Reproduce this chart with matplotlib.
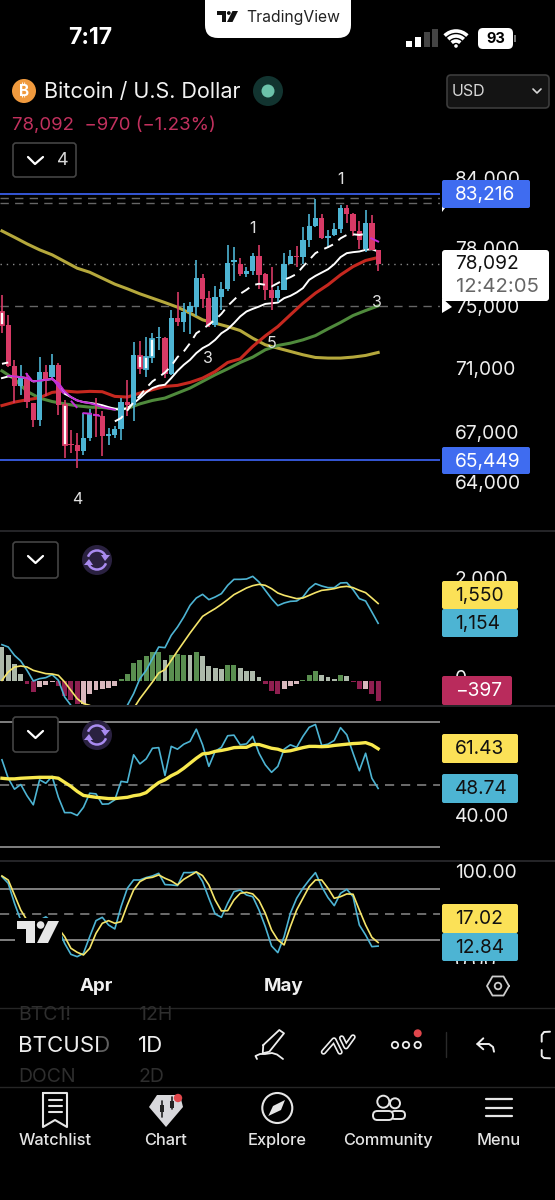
import numpy as np
import matplotlib
matplotlib.use("Agg")
import matplotlib.pyplot as plt
from matplotlib.patches import FancyBboxPatch, Circle, Polygon, Arc, Rectangle

plt.rcParams['font.family'] = ['Inter', 'DejaVu Sans']

W, H = 555, 1200
BG = '#000000'

# ---------- data: x is days from 1 April ----------
days = list(range(-15, 46))
opens = [74830,73940,71250,69940,70465,68885,67865,70885,70530,71315,68780,66410,66330,65950,66745,68230,68110,66900,66925,67295,68990,68780,71900,71050,71815,73070,73050,70738,74430,74160,74770,75170,77120,75740,73940,75855,76360,78270,78120,77420,77630,78700,77400,76315,75740,76315,78120,78700,78600,79830,80877,81465,79950,80194,80607,82200,81734,80510,79170,81048,79120]
highs = [75970,74610,71597,71315,70780,68885,71814,71315,72030,71420,69100,67250,67050,68270,68520,69205,68375,67355,67500,69205,70360,72770,72835,73159,73420,73825,73159,74946,76133,75440,75510,78410,77420,76200,76590,76890,79480,79310,78530,77880,78930,79480,77510,77880,76590,78885,79120,79410,80754,81734,82847,81710,80558,81097,82395,82395,81783,81244,82028,81660,79120]
lows = [73380,71205,68885,69415,68580,67415,67500,69310,70465,68170,65556,65850,64995,65750,66550,66843,65695,66350,66745,66645,68070,67760,70738,70530,71465,72290,70465,70675,73870,73490,73340,74500,75060,73825,73780,74946,76200,76960,77280,77190,77350,76360,75625,74946,75510,76315,78110,77880,78120,79313,80754,79880,79240,80145,80313,81048,80117,79170,79000,79075,77650]
closes = [73940,71250,69940,70465,68930,67865,70885,70400,71315,68780,66350,66330,65950,66745,68230,68110,66885,66985,67295,68990,68780,71944,71100,71815,72985,73159,70738,74430,74115,74770,75215,77120,75670,73940,75855,76360,78170,78365,77420,77630,78650,77350,76315,75740,76315,78120,78650,78600,79830,80877,81465,79950,80145,80630,82200,81734,80485,79830,81048,79120,78092]
hollow_days = [-15, -5, 7, 8, 9]

olive_days = [-15,-13,-11,-9,-7,-5,-3,-1,1,3,5,7,9,11,13,15,17,19,21,23,25,27,29,31,33,35,37,39,41,43,45]
olive_vals = [80484,80024,79550,79123,78767,78293,77820,77536,77120,76707,76385,76040,75740,75440,75125,74722,74274,74050,73825,73557,73050,72617,72400,72183,71966,71790,71750,71750,71815,71922,72117]
red_days = olive_days
red_vals = [68738,68953,69100,69226,69562,69646,69583,69625,69604,69310,69268,69520,69730,69940,70003,70192,70465,70885,71466,71705,72508,73204,73825,74610,75394,76087,76662,77352,77934,78364,78578]
green_days = olive_days
green_vals = [70927,70402,69625,69205,68990,68844,68722,68640,68620,68518,68559,68844,69058,69205,69520,69835,70255,70675,71055,71466,71814,72291,72573,72725,72942,73224,73670,74095,74565,74900,75215]
white_days = list(range(-15, 46))
white_vals = [70465,70570,70570,70520,70465,70255,70297,70360,70402,70150,69478,69268,69058,68953,68906,68844,68760,68640,68539,68477,68580,68885,69205,69562,69835,69982,70045,70465,70927,71315,71640,72075,72400,72617,72942,73378,73647,74050,74500,74834,75013,75170,75349,75394,75440,75740,75900,76133,76432,77007,77283,77513,77744,78104,78602,78885,78956,79003,79123,79170,79003]
dash_days = [-15,-14,None,3,4,5,6,7,8,9,10,11,12,13,14,15,16,17,18,19,20,21,22,23,24,25,26,27,28,29,30,31,32,33,34,35,36,37,38,39,40,41,42,43]
dash_vals = [71380,71466,None,67765,67967,68436,68950,69352,69835,70255,70528,70822,71250,71814,72183,72725,73378,73647,73960,74274,74677,75210,75625,76040,76315,76640,76731,76662,76547,76777,77007,77190,77420,77934,78403,78885,79123,79313,79550,79950,80194,80240,80194,80270]
mag_days = [-14,-13,-12,-11,-10,-9,-8,-7,-6,-5,-4,-3,-2,-1,0,1,2,3]
mag_vals = [70612,70570,70528,70465,70255,70297,70360,70402,70150,69625,69268,69058,68953,68885,68780,68640,68559,68477]
magdash_days = [-11.1,-10.4,None,-7,-5.2,None,-3.9,-3.1,None,-2,-0.8,None,-0.3,0.5,None,43.9,45]
magdash_vals = [70738,70402,None,70465,69520,None,68990,68640,None,68270,68230,None,68170,68110,None,79950,79715]

level_top = 83216
level_bot = 65449
last_price = 78092
dash_levels = [82897, 82518, 75200]

macd_hist = [680,513,347,147,-53,-220,-120,-87,-20,-107,-307,-387,-467,-467,-267,-173,-160,-147,-100,47,133,360,427,493,573,587,413,513,533,527,513,580,493,293,260,247,327,327,260,200,193,80,-67,-207,-253,-153,-100,-53,13,127,200,127,73,40,113,93,-27,-160,-153,-260,-397]
hist_kind = ['s','s','s','s','r','r','p','p','p','r','r','r','r','p','p','p','p','p','p',
             'g','g','g','g','g','g','g','s','g','g','g','s','g','s','s','s','s','g','g','s','s','s','s',
             'r','r','r','p','p','p','g','g','g','s','s','s','g','s','r','r','p','r','r']
macd_line = [727,680,513,400,213,0,47,67,127,13,-320,-487,-650,-800,-850,-830,-800,-760,-680,-600,-487,-253,47,213,447,680,667,913,1080,1280,1513,1660,1733,1627,1680,1747,1913,2033,2033,2040,2093,1980,1813,1647,1507,1560,1593,1600,1680,1847,1947,1900,1867,1867,1960,1967,1827,1647,1600,1380,1154]
macd_signal = [13,180,280,300,280,213,180,147,140,113,-20,-187,-353,-453,-487,-600,-680,-720,-720,-680,-640,-550,-353,-187,-20,160,227,413,600,780,960,1127,1293,1373,1447,1533,1627,1727,1793,1860,1907,1933,1913,1847,1760,1713,1680,1647,1660,1713,1767,1813,1827,1847,1880,1893,1867,1813,1767,1660,1550]

rsi_line = [57.9,52,48.5,50,46.4,43.5,51.5,50.4,52.6,45.9,41,41,40.1,42.7,47.2,47,43.7,43.8,45.1,51,50.7,59.5,56.6,58.2,61.6,61.8,52.9,62.2,61.3,62.9,63.8,67.7,62.7,55.8,60.6,61.9,65.6,65.8,62.7,63,65.4,60,56.3,53.9,55.8,61.3,62.7,61.9,65.4,68.3,69.2,62.5,62.9,64.1,68.2,65.9,60,54.4,60,52,48.74]
rsi_ma = [52,51.8,51.8,52,52.1,52.2,52.3,52.3,52.3,52,50.7,49.4,47.8,46.5,46.2,45.9,45.7,45.5,45.5,45.7,45.9,46.4,46.7,47.4,49.1,50.6,51.5,52.8,53.8,55.2,56.8,58.4,59.8,60,60.6,60.9,61.3,61.8,61.9,61.9,62.8,62.8,62.2,61.6,61.3,60.6,60.8,61.3,61.8,62.2,62.2,62.1,62.2,62.5,62.7,62.9,63.1,63.2,63.4,62.7,61.43]
stoch_k = [94,86.2,62.9,43,35.6,29.7,43,47,41,33.6,16,3.2,0.5,4.4,23.9,42.6,46.5,37.5,32.9,59,80.4,90.1,90.1,92.9,94.8,97.9,84.7,84.3,83.5,98.7,98.7,99.5,88.2,68.7,50.4,46.5,62.9,76.5,78.4,72.6,70.6,55,35.6,13,5.2,23.9,51.2,68.7,80.4,90.1,98.7,82.3,69.5,60.1,74.5,79.2,70.6,37.5,25.8,12.2,12.84]
stoch_d = [94.8,90,72.6,55,43,35.6,31.7,33.6,35.6,33.6,23.9,10.3,5.6,2.5,10.3,27.8,39.5,42.6,39.5,41.4,60.9,78.4,88.2,92.1,93.2,96,92.1,89,84.3,90.9,95.2,99.5,95.2,84.3,66.7,53.9,54.3,66.7,74.5,75.7,73.8,66,51.2,31.7,20,14.2,35.6,55,68.7,82.3,90.1,90.1,80.4,68.7,70.6,73.8,73.4,55,37.5,23.1,17.02]
rsi_levels = [70, 50, 30]
stoch_levels = [80, 50, 20]

# ---------- colours ----------
C_RED = '#d83a66'
C_BLUE = '#4db4d3'
C_TAGY = '#fbe157'
C_LINE_Y = '#f5e56a'
C_CRIM = '#b92b5c'
C_ROYAL = '#3557d6'
C_TAGB = '#3f6cf0'
C_GRID = '#8a8a8a'
HIST = {'g': '#5a8f50', 's': '#adb9aa', 'r': '#8f1f50', 'p': '#d8b8bd'}


def panel(y0, y1):
    ax = fig.add_axes([0, 1 - y1 / H, 440 / W, (y1 - y0) / H])
    ax.set_xlim(-96 / 6.27, (440 - 96) / 6.27)
    ax.axis('off')
    ax.patch.set_alpha(0)
    return ax


def arr(v):
    return np.array([np.nan if a is None else a for a in v], dtype=float)


fig = plt.figure(figsize=(W / 100, H / 100), dpi=100, facecolor=BG)

# ---------- price panel ----------
ax = panel(165, 530)
ax.set_yscale('log')
ax.set_ylim(61430, 85424)
ax.axis('off')
for lv in dash_levels:
    ax.axhline(lv, color='#666666', lw=1, dashes=(6, 4.5), zorder=1)
ax.axhline(last_price, color='#8a8a8a', lw=1, dashes=(1, 3.5), zorder=1)
ax.axhline(level_top, color=C_ROYAL, lw=1.4, zorder=1)
ax.axhline(level_bot, color=C_ROYAL, lw=1.4, zorder=1)
ax.plot(olive_days, olive_vals, color='#b5a83c', lw=2.2, zorder=2)
ax.plot(green_days, green_vals, color='#4f8a3c', lw=2.2, zorder=2)
ax.plot(red_days, red_vals, color='#c5281f', lw=2.2, zorder=2)
ax.plot(white_days, white_vals, color='white', lw=1.4, zorder=3)
for d, o, h, l, c in zip(days, opens, highs, lows, closes):
    col = C_BLUE if c >= o else C_RED
    ax.plot([d, d], [l, h], color=col, lw=1.2, zorder=4, solid_capstyle='butt')
    lo, hi = min(o, c), max(o, c)
    if hi - lo < 60:
        hi = lo + 60
    if d in hollow_days:
        ax.bar(d, hi - lo, bottom=lo, width=0.62, facecolor='white', edgecolor=col, lw=1.3, zorder=5)
    else:
        ax.bar(d, hi - lo, bottom=lo, width=0.84, color=col, lw=0, zorder=5)
ax.plot(arr(dash_days), arr(dash_vals), color='white', lw=1.4, dashes=(5, 3.5), zorder=6)
ax.plot(mag_days, mag_vals, color='#c42fd8', lw=1.4, zorder=6)
ax.plot(arr(magdash_days), arr(magdash_vals), color='#c42fd8', lw=1.4, zorder=6)

# ---------- MACD panel ----------
ax2 = panel(531, 705)
ax2.set_ylim(-480, 3000)
for d, v, k in zip(days, macd_hist, hist_kind):
    ax2.bar(d, v, width=0.78, color=HIST[k], lw=0, zorder=1)
ax2.plot(days, macd_line, color=C_BLUE, lw=1.2, zorder=2)
ax2.plot(days, macd_signal, color=C_LINE_Y, lw=1.2, zorder=3)

# ---------- RSI panel ----------
ax3 = panel(706, 860)
ax3.set_ylim(25.84, 75.12)
ax3.axhline(rsi_levels[0], color=C_GRID, lw=1.3)
ax3.axhline(rsi_levels[1], color=C_GRID, lw=1.1, dashes=(6, 4.5))
ax3.axhline(rsi_levels[2], color=C_GRID, lw=1.3)
ax3.plot(days, rsi_line, color=C_BLUE, lw=1.2, zorder=2)
ax3.plot(days, rsi_ma, color='#f8e94e', lw=2.4, zorder=3)

# ---------- Stochastic panel ----------
ax4 = panel(862, 960)
ax4.set_ylim(-3.4, 111.1)
ax4.axhline(stoch_levels[0], color=C_GRID, lw=1.3)
ax4.axhline(stoch_levels[1], color=C_GRID, lw=1.1, dashes=(6, 4.5))
ax4.axhline(stoch_levels[2], color=C_GRID, lw=1.3)
ax4.plot(days, stoch_k, color=C_BLUE, lw=1.2, zorder=2)
ax4.plot(days, stoch_d, color=C_LINE_Y, lw=1.2, zorder=3)

# ---------- overlay in screen pixels ----------
ov = fig.add_axes([0, 0, 1, 1], zorder=10)
ov.set_xlim(0, W)
ov.set_ylim(H, 0)
ov.axis('off')
ov.patch.set_alpha(0)


def txt(x, y, s, size=14, color='white', ha='left', weight='normal', z=5, **kw):
    return ov.text(x, y + 1.5, s, fontsize=size, color=color, ha=ha, va='center', fontweight=weight, zorder=z, **kw)


def rbox(x0, y0, x1, y1, fc, ec='none', r=3, lw=1, z=3):
    p = FancyBboxPatch((x0 + r, y0 + r), x1 - x0 - 2 * r, y1 - y0 - 2 * r,
                       boxstyle=f'round,pad={r},rounding_size={r}', fc=fc, ec=ec, lw=lw, zorder=z)
    ov.add_patch(p)
    return p


def line(xs, ys, color='white', lw=1.5, z=6):
    ov.plot(xs, ys, color=color, lw=lw, zorder=z, solid_capstyle='round', solid_joinstyle='round')


def tv_logo(x, y, s, color):
    bar = [(0, 0), (9, 0), (9, 11), (4.5, 11), (4.5, 4), (0, 4)]
    slash = [(15.5, 0), (21, 0), (15.5, 11), (10, 11)]
    ov.add_patch(Polygon([(x + a * s, y + b * s) for a, b in bar], fc=color, ec='none', zorder=7))
    ov.add_patch(Polygon([(x + a * s, y + b * s) for a, b in slash], fc=color, ec='none', zorder=7))
    ov.add_patch(Circle((x + 11.8 * s, y + 2 * s), 1.9 * s, fc=color, ec='none', zorder=7))


# separators
for yy in [531, 706, 861]:
    ov.plot([0, W], [yy, yy], color='#2c2c30', lw=1.2, zorder=1)
for yy in [1008, 1087]:
    ov.plot([0, W], [yy, yy], color='#262626', lw=1, zorder=1)

# status bar
rbox(205, -20, 351, 38, 'white', r=13)
tv_logo(217, 11, 1.0, '#111111')
txt(246, 16, 'TradingView', 11.3, '#222222')
txt(68, 36, '7:17', 16.5, 'white', weight='bold')
for x, h, c in zip([406, 415, 424, 432], [6, 10, 15, 18], ['white', 'white', '#444444', '#444444']):
    ov.add_patch(Rectangle((x, 47 - h), 5.5, h, fc=c, ec='none', zorder=5))
for r in [5, 10, 15]:
    ov.add_patch(Arc((456, 47), 2 * r + 2, 2 * r + 2, theta1=225, theta2=315, color='white', lw=2.6, zorder=5))
ov.add_patch(Circle((456, 46), 1.8, fc='white', ec='none', zorder=5))
rbox(478, 28, 513, 49, 'white', r=5)
txt(495.5, 37.5, '93', 10.5, 'black', ha='center', weight='bold')
ov.add_patch(Rectangle((514, 35), 1.5, 7, fc='#777777', ec='none', zorder=5))

# header
ov.add_patch(Circle((24, 91), 12, fc='#f09a3e', ec='none', zorder=4))
txt(24, 90, '₿', 11, 'white', ha='center', weight='bold')
txt(44, 90.5, 'Bitcoin / U.S. Dollar', 15.5, '#f2f2f2')
ov.add_patch(Circle((268, 91), 15, fc='#123430', ec='none', zorder=4))
ov.add_patch(Circle((268, 91), 6.5, fc='#6cc2aa', ec='none', zorder=5))
txt(12, 123.5, '78,092  −970 (−1.23%)', 13.4, '#c2315e')
rbox(447, 75, 549, 108, '#141414', ec='#3c3c3c', r=4, lw=1.2)
txt(452, 90, 'USD', 11.5, '#d8d8d8')
line([533, 537, 541], [89, 93, 89], '#d8d8d8', 1.2)
rbox(13, 143, 76, 177, BG, ec='#444444', r=3, lw=1.2)
line([28, 35, 43], [157, 164, 157], 'white', 1.6)
txt(57, 159, '4', 13, '#d8d8d8')

# wave marks
for x, y, s in [(340, 178, '1'), (252, 227, '1'), (208, 357, '3'), (272, 342, '5'), (377, 301, '3'), (77, 498, '4')]:
    txt(x, y, s, 11.5, '#e0e0e0', ha='center')

# price scale labels
for y, s in [(178, '84,000'), (249, '78,000'), (307, '75,000'), (368, '71,000'), (432, '67,000'), (483, '64,000'),
             (578, '2,000'), (678, '0'), (816, '40.00'), (872, '100.00'), (962, '0.00')]:
    txt(455, y, s, 13.8, '#eeeeee', z=2)
ov.add_patch(Rectangle((441, 964), 110, 14, fc=BG, ec='none', zorder=2.5))


def tag(y0, y1, x1, s, fc, tc='#111111', x0=442):
    rbox(x0, y0, x1, y1, fc, r=2)
    txt(455, (y0 + y1) / 2 - 0.5, s, 13.8, tc)


ov.add_patch(Polygon([(442, 190), (452, 199), (442, 212)], fc='white', ec='none', zorder=2.8))
ov.add_patch(Polygon([(442, 298), (452, 307), (442, 313)], fc='white', ec='none', zorder=2.8))
tag(180, 208, 530, '83,216', C_TAGB, 'white')
tag(447, 474, 530, '65,449', C_TAGB, 'white')
rbox(442, 250, 549, 301, 'white', r=3)
txt(455, 263, '78,092', 13.8, '#111111')
txt(456, 285, '12:42:05', 14.6, '#666666')

tag(581, 609, 518, '1,550', C_TAGY)
tag(609, 637, 518, '1,154', C_BLUE)
tag(676, 705, 512, '−397', C_CRIM, 'white')
tag(734, 763, 518, '61.43', C_TAGY)
tag(774, 803, 518, '48.74', C_BLUE)
tag(904, 933, 518, '17.02', C_TAGY)
tag(933, 961, 518, '12.84', C_BLUE)

# indicator header buttons
for yb in [542, 717]:
    rbox(13, yb, 58, yb + 36 if yb == 542 else yb + 35, BG, ec='#444444', r=3, lw=1.2, z=7)
    line([28, 35.5, 43], [yb + 14, yb + 21, yb + 14], 'white', 1.6, z=8)
    ov.add_patch(Circle((97, yb + 18), 15, fc='#2a2140', ec='none', zorder=7))
    ov.add_patch(Arc((97, yb + 18), 19, 19, theta1=200, theta2=340, color='#a98bf0', lw=1.8, zorder=8))
    ov.add_patch(Arc((97, yb + 18), 19, 19, theta1=20, theta2=160, color='#a98bf0', lw=1.8, zorder=8))
    ov.add_patch(Polygon([(105, yb + 19), (110, yb + 13), (101, yb + 13)], fc='#a98bf0', ec='none', zorder=8))
    ov.add_patch(Polygon([(89, yb + 17), (84, yb + 23), (93, yb + 23)], fc='#a98bf0', ec='none', zorder=8))

# watermark logo
ov.add_patch(Rectangle((15, 918), 47, 27, fc=BG, ec='none', zorder=6))
tv_logo(17, 921, 2.0, '#e6e6e6')

# time axis
txt(96, 985, 'Apr', 13.5, '#f0f0f0', ha='center', weight='bold')
txt(284, 985, 'May', 13.5, '#f0f0f0', ha='center', weight='bold')
ang = np.deg2rad(np.arange(0, 361, 60))
line(498 + 11 * np.cos(ang), 986 + 11 * np.sin(ang), '#cccccc', 1.3)
ov.add_patch(Circle((498, 986), 3.3, fc='none', ec='#cccccc', lw=1.3, zorder=6))

# toolbar
txt(18, 1014, 'BTC1!', 14, '#2e2e2e')
txt(138, 1014, '12H', 14, '#2e2e2e')
txt(18, 1075, 'DOCN', 14, '#2e2e2e')
txt(138, 1075, '2D', 14, '#2e2e2e')
txt(18, 1045, 'BTCUSD', 16, '#eeeeee')
ov.add_patch(Rectangle((98, 1032), 18, 28, fc=BG, alpha=0.6, ec='none', zorder=6))
txt(138, 1045, '1D', 16, '#eeeeee')
line([263.3, 279.3, 284, 269.3, 262.7, 263.3], [1045, 1030, 1033.3, 1051.7, 1053.3, 1045], '#eeeeee', 1.3)
line([257, 255.5, 260, 265, 272, 277, 283], [1059, 1056, 1054, 1054, 1053, 1054.5, 1059], '#eeeeee', 1.3)
line([323.5, 334, 340], [1052, 1040, 1052], '#eeeeee', 4)
line([323.5, 334, 340], [1052, 1040, 1052], '#000000', 1.6, z=7)
line([341.7, 346, 353], [1038, 1046.7, 1037], '#eeeeee', 4)
line([341.7, 346, 353], [1038, 1046.7, 1037], '#000000', 1.6, z=7)
for x in [395, 406, 417.7]:
    ov.add_patch(Circle((x, 1045), 3.2, fc='none', ec='#eeeeee', lw=1.3, zorder=6))
ov.add_patch(Circle((417.7, 1033.3), 4, fc='#e0474c', ec='none', zorder=7))
line([446, 446], [1032, 1057], '#2a2a2a', 1)
line([483.3, 477.3, 483.3], [1038.3, 1044, 1049.3], '#eeeeee', 1.4)
line([477.3, 489, 493, 494], [1044, 1044, 1047, 1051.7], '#eeeeee', 1.4)
line([550, 544, 541.7, 541.7], [1031.7, 1032, 1035, 1041.7], '#eeeeee', 1.4)
line([541.7, 541.7, 544, 550], [1050, 1056, 1058, 1058.3], '#eeeeee', 1.4)

# bottom navigation
for x, s in zip([55, 166, 277, 388, 498.5], ['Watchlist', 'Chart', 'Explore', 'Community', 'Menu']):
    txt(x, 1139, s, 11.8, '#e4e4e4', ha='center', weight='medium')
line([43, 43, 55, 67, 67, 43], [1093, 1127, 1120, 1127, 1093, 1093], '#e6e6e6', 1.5)
for yy in [1100, 1106, 1112]:
    line([49, 62], [yy, yy], '#e6e6e6', 1.5)
ov.add_patch(Polygon([(157, 1095), (180, 1095), (183, 1107), (166, 1127), (149, 1107)], fc='#d8d8dc', ec='none', zorder=5))
for x, y0, y1 in [(162, 1101, 1117), (172, 1097, 1109)]:
    line([x, x], [y0, y1], '#222222', 1.2)
    ov.add_patch(Rectangle((x - 2, y0 + 4), 4, 7, fc='#222222', ec='none', zorder=7))
ov.add_patch(Circle((178, 1098), 4.2, fc='#e0474c', ec='none', zorder=8))
ov.add_patch(Circle((277.3, 1108), 15, fc='none', ec='#e6e6e6', lw=1.5, zorder=5))
ov.add_patch(Polygon([(268.3, 1116), (273, 1106), (285, 1100), (281, 1110)], fc='#e6e6e6', ec='none', zorder=5))
ov.add_patch(Circle((383.3, 1101.7), 6, fc='none', ec='#e6e6e6', lw=1.4, zorder=5))
ov.add_patch(Circle((395, 1103.3), 5, fc='none', ec='#e6e6e6', lw=1.4, zorder=5))
rbox(373, 1111, 393, 1120, BG, ec='#e6e6e6', r=4.4, lw=1.4, z=5)
rbox(391, 1111, 405, 1119, BG, ec='#e6e6e6', r=3.9, lw=1.4, z=4)
for yy in [1099, 1107.7, 1116]:
    line([486, 511.7], [yy, yy], '#e6e6e6', 1.6)

fig.savefig('out.png', dpi=100, facecolor=BG)
